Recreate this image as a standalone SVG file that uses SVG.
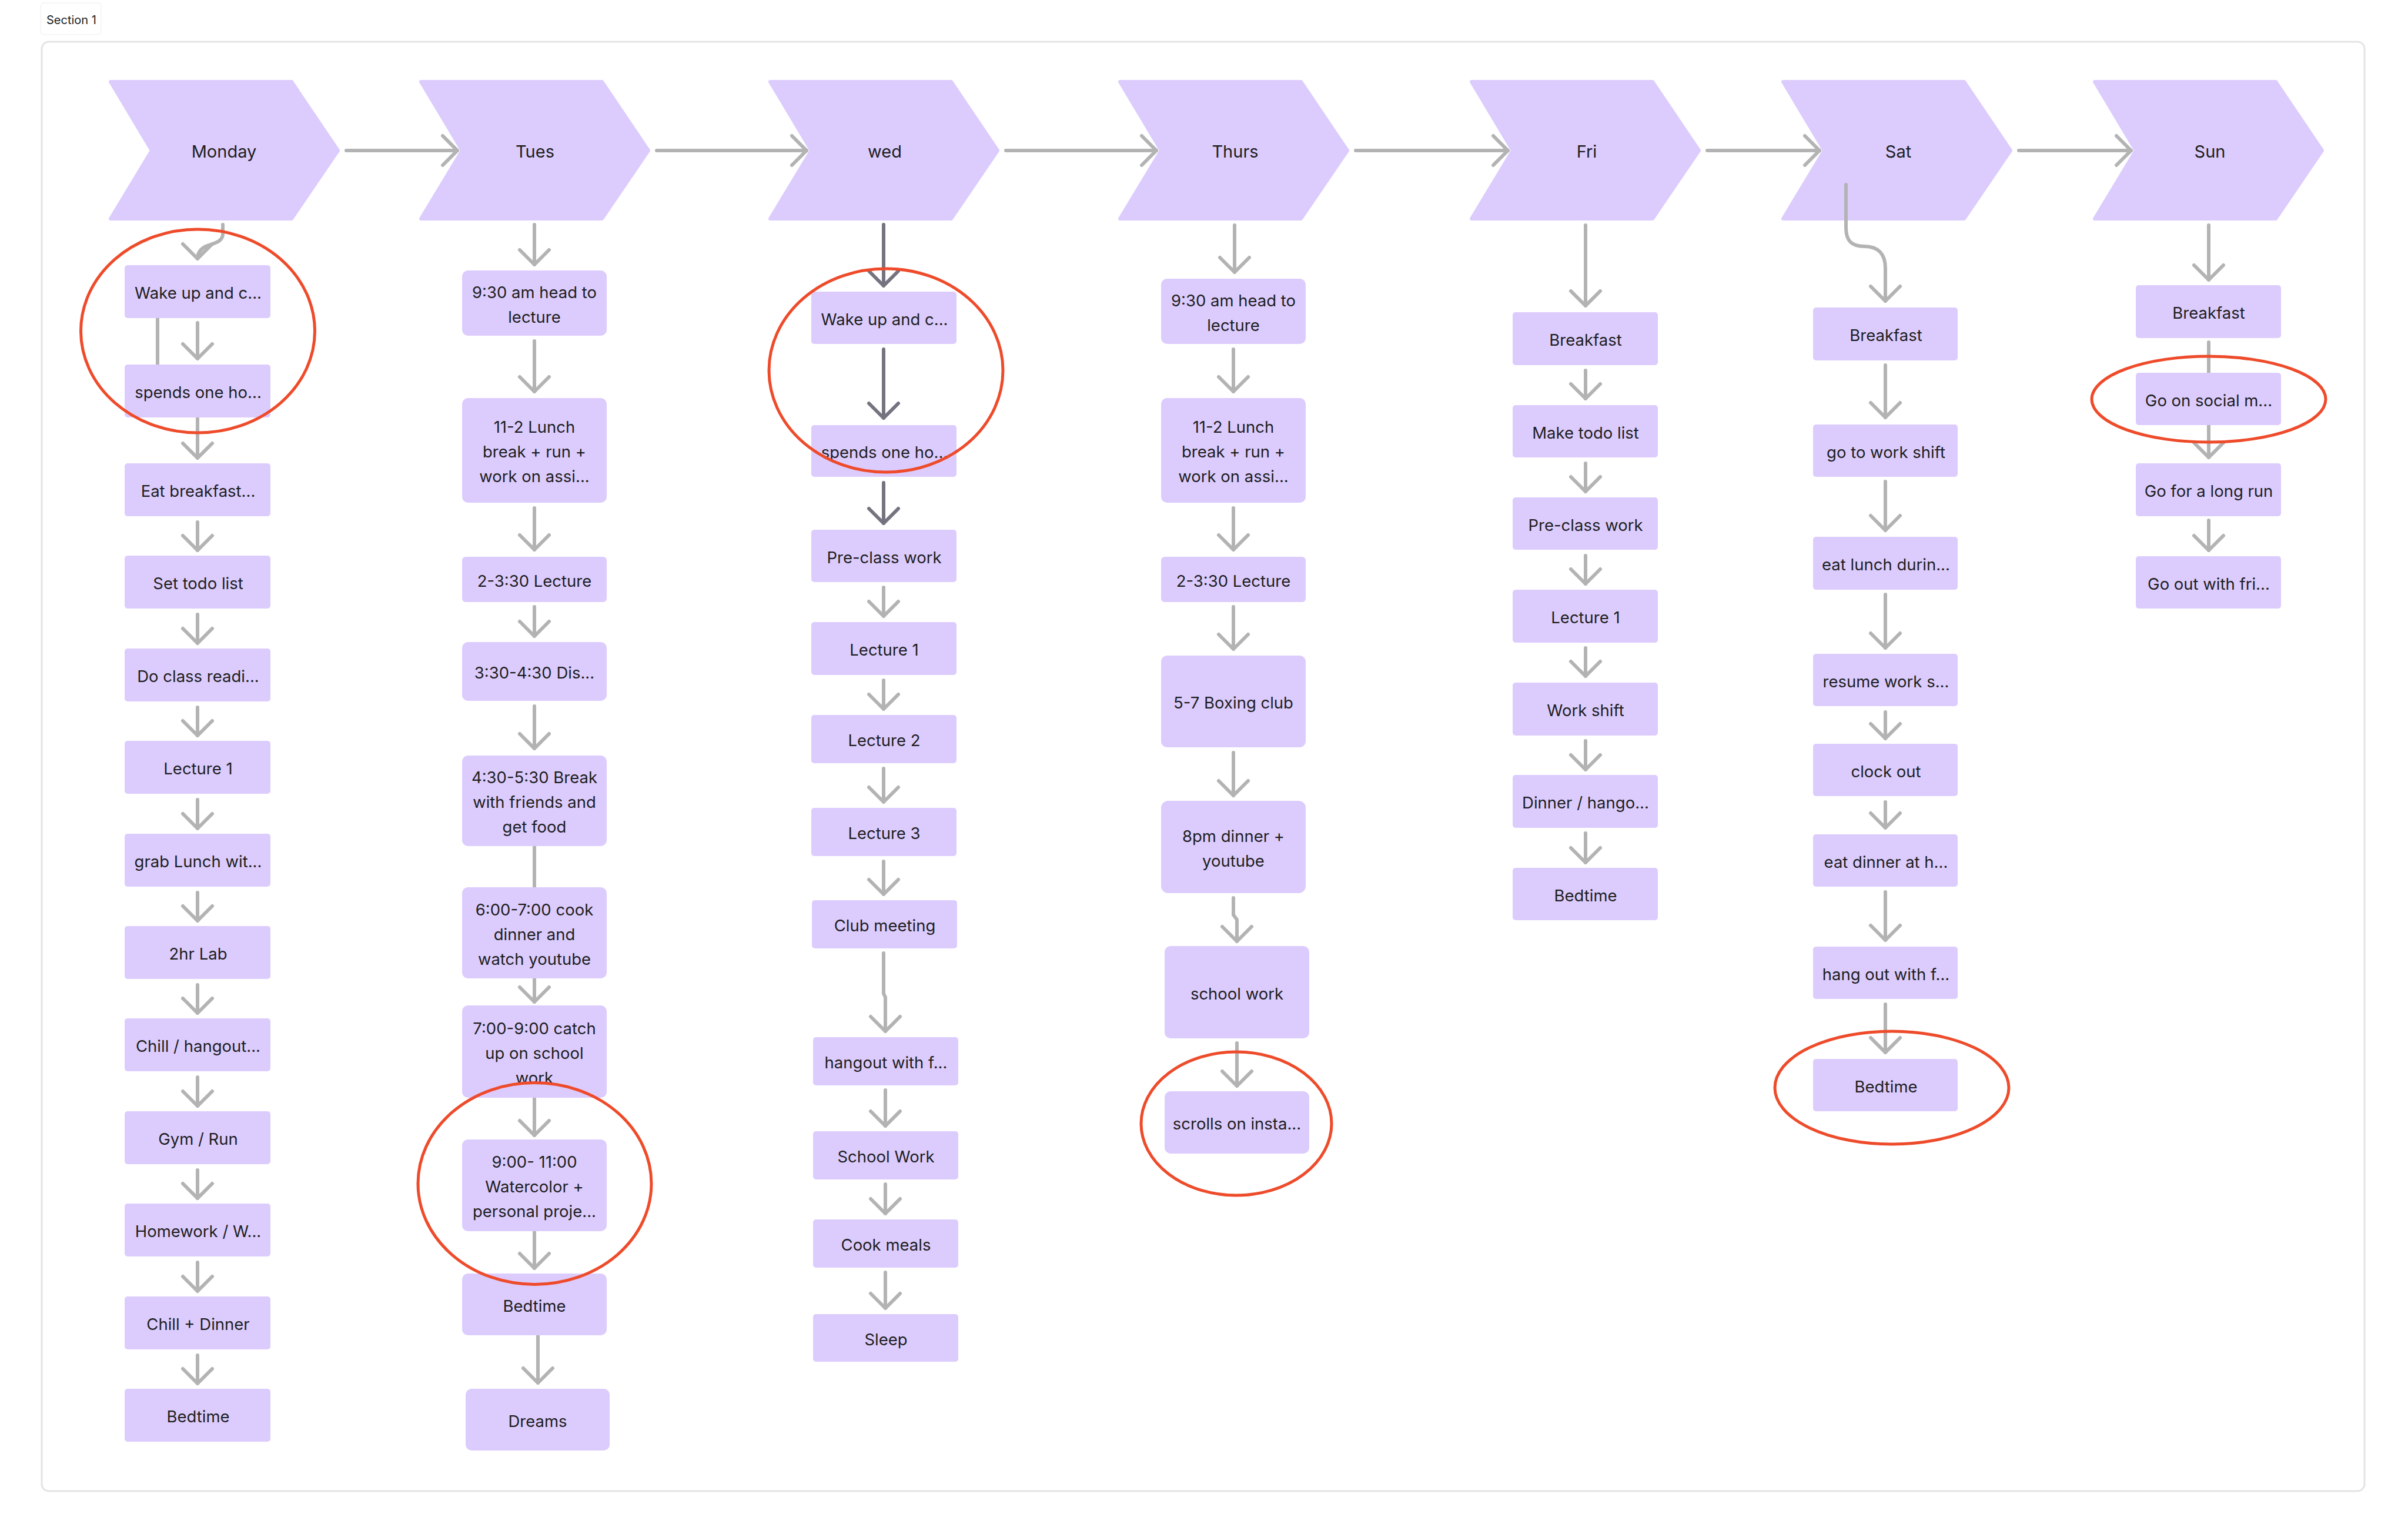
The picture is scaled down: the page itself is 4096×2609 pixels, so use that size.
<svg xmlns="http://www.w3.org/2000/svg" width="4096" height="2609" viewBox="0 0 4096 2609">
<style>
.frame{fill:#ffffff;stroke:#e4e4e4;stroke-width:3}
.chev{fill:#DCCCFE;stroke:#DCCCFE;stroke-width:6;stroke-linejoin:round}
.box{fill:#DCCCFE}
.t{font-family:Inter,"Noto Sans","Liberation Sans",sans-serif;font-size:27.5px;fill:#1e1e1e;text-anchor:middle}
.ct{font-family:Inter,"Noto Sans","Liberation Sans",sans-serif;font-size:29px;fill:#1e1e1e;text-anchor:middle}
.c{fill:none;stroke:#b3b3b3;stroke-width:6;stroke-linecap:round;stroke-linejoin:round}
.d{stroke:#75737f}
.ring{fill:none;stroke:#EE4B2B;stroke-width:5}
</style>
<defs>
<marker id="ah" viewBox="-30 -30 60 60" markerWidth="60" markerHeight="60" markerUnits="userSpaceOnUse" orient="auto" refX="0" refY="0" overflow="visible"><path d="M-25,-25 L0,0 L-25,25" fill="none" stroke="#b3b3b3" stroke-width="6" stroke-linecap="round" stroke-linejoin="round"/></marker>
<marker id="ahd" viewBox="-30 -30 60 60" markerWidth="60" markerHeight="60" markerUnits="userSpaceOnUse" orient="auto" refX="0" refY="0" overflow="visible"><path d="M-25,-25 L0,0 L-25,25" fill="none" stroke="#75737f" stroke-width="6" stroke-linecap="round" stroke-linejoin="round"/></marker>
</defs>
<rect x="0" y="0" width="4096" height="2609" fill="#ffffff"/>
<g id="section-label"><rect x="69" y="5" width="103" height="54" rx="6" fill="#ffffff" stroke="#f3f3f3" stroke-width="1.5"/><text x="79" y="41" font-family="Inter,'Noto Sans',sans-serif" font-size="20" fill="#1e1e1e">Section 1</text></g>
<rect class="frame" x="71" y="71" width="3951" height="2465" rx="12"/>

<g id="chevrons">
<g id="day-mon"><polygon class="chev" points="188,139 496,139 575,256 496,372 188,372 258,256"/><text class="ct" x="381" y="268">Monday</text></g>
<g id="day-tue"><polygon class="chev" points="716,139 1024,139 1103,256 1024,372 716,372 786,256"/><text class="ct" x="910" y="268">Tues</text></g>
<g id="day-wed"><polygon class="chev" points="1310,139 1618,139 1697,256 1618,372 1310,372 1380,256"/><text class="ct" x="1505" y="268">wed</text></g>
<g id="day-thu"><polygon class="chev" points="1905,139 2213,139 2292,256 2213,372 1905,372 1975,256"/><text class="ct" x="2101" y="268">Thurs</text></g>
<g id="day-fri"><polygon class="chev" points="2503,139 2811,139 2890,256 2811,372 2503,372 2573,256"/><text class="ct" x="2699" y="268">Fri</text></g>
<g id="day-sat"><polygon class="chev" points="3033,139 3341,139 3420,256 3341,372 3033,372 3103,256"/><text class="ct" x="3229" y="268">Sat</text></g>
<g id="day-sun"><polygon class="chev" points="3563,139 3871,139 3950,256 3871,372 3563,372 3633,256"/><text class="ct" x="3759" y="268">Sun</text></g>
</g>

<g id="connectors">
<path class="c" marker-end="url(#ah)" d="M589,256 H778"/>
<path class="c" marker-end="url(#ah)" d="M1117,256 H1372"/>
<path class="c" marker-end="url(#ah)" d="M1711,256 H1967"/>
<path class="c" marker-end="url(#ah)" d="M2306,256 H2565"/>
<path class="c" marker-end="url(#ah)" d="M2904,256 H3095"/>
<path class="c" marker-end="url(#ah)" d="M3434,256 H3625"/>
<!-- Monday -->
<path class="c" marker-end="url(#ah)" d="M379,382 V398 C379,412 362,414 350,419 C340,424 336,432 336,440"/>
<path class="c" d="M268,541 V620"/>
<path class="c" marker-end="url(#ah)" d="M336,549 V610"/>
<path class="c" marker-end="url(#ah)" d="M336,710 V779"/>
<path class="c" marker-end="url(#ah)" d="M336,888 V936"/>
<path class="c" marker-end="url(#ah)" d="M336,1045 V1094"/>
<path class="c" marker-end="url(#ah)" d="M336,1203 V1251"/>
<path class="c" marker-end="url(#ah)" d="M336,1360 V1409"/>
<path class="c" marker-end="url(#ah)" d="M336,1518 V1566"/>
<path class="c" marker-end="url(#ah)" d="M336,1675 V1723"/>
<path class="c" marker-end="url(#ah)" d="M336,1832 V1881"/>
<path class="c" marker-end="url(#ah)" d="M336,1990 V2038"/>
<path class="c" marker-end="url(#ah)" d="M336,2147 V2196"/>
<path class="c" marker-end="url(#ah)" d="M336,2305 V2353"/>
<!-- Tues -->
<path class="c" marker-end="url(#ah)" d="M909,382 V450"/>
<path class="c" marker-end="url(#ah)" d="M909,580 V666"/>
<path class="c" marker-end="url(#ah)" d="M909,864 V935"/>
<path class="c" marker-end="url(#ah)" d="M909,1032 V1082"/>
<path class="c" marker-end="url(#ah)" d="M909,1201 V1273"/>
<path class="c" d="M909,1439 V1509"/>
<path class="c" marker-end="url(#ah)" d="M909,1664 V1704"/>
<path class="c" marker-end="url(#ah)" d="M909,1867 V1931"/>
<path class="c" marker-end="url(#ah)" d="M909,2094 V2157"/>
<path class="c" marker-end="url(#ah)" d="M915,2271 V2352"/>
<!-- wed -->
<path class="c d" marker-end="url(#ahd)" d="M1503,382 V486"/>
<path class="c d" marker-end="url(#ahd)" d="M1503,594 V711"/>
<path class="c d" marker-end="url(#ahd)" d="M1503,821 V890"/>
<path class="c" marker-end="url(#ah)" d="M1503,999 V1048"/>
<path class="c" marker-end="url(#ah)" d="M1503,1157 V1206"/>
<path class="c" marker-end="url(#ah)" d="M1503,1307 V1364"/>
<path class="c" marker-end="url(#ah)" d="M1503,1465 V1521"/>
<path class="c" marker-end="url(#ah)" d="M1503,1621 V1690 L1506,1696 V1754"/>
<path class="c" marker-end="url(#ah)" d="M1506,1854 V1915"/>
<path class="c" marker-end="url(#ah)" d="M1506,2014 V2064"/>
<path class="c" marker-end="url(#ah)" d="M1506,2164 V2225"/>
<!-- Thurs -->
<path class="c" marker-end="url(#ah)" d="M2100,383 V463"/>
<path class="c" marker-end="url(#ah)" d="M2098,594 V666"/>
<path class="c" marker-end="url(#ah)" d="M2098,864 V935"/>
<path class="c" marker-end="url(#ah)" d="M2098,1032 V1104"/>
<path class="c" marker-end="url(#ah)" d="M2098,1280 V1353"/>
<path class="c" marker-end="url(#ah)" d="M2098,1527 V1556 L2104,1564 V1601"/>
<path class="c" marker-end="url(#ah)" d="M2104,1774 V1847"/>
<!-- Fri -->
<path class="c" marker-end="url(#ah)" d="M2697,383 V520"/>
<path class="c" marker-end="url(#ah)" d="M2697,630 V678"/>
<path class="c" marker-end="url(#ah)" d="M2697,788 V836"/>
<path class="c" marker-end="url(#ah)" d="M2697,945 V993"/>
<path class="c" marker-end="url(#ah)" d="M2697,1102 V1150"/>
<path class="c" marker-end="url(#ah)" d="M2697,1260 V1309"/>
<path class="c" marker-end="url(#ah)" d="M2697,1417 V1467"/>
<!-- Sat -->
<path class="c" marker-end="url(#ah)" d="M3140,314 V387 C3140,410 3150,419 3171,419 C3195,419 3207,432 3207,456 V512"/>
<path class="c" marker-end="url(#ah)" d="M3207,621 V710"/>
<path class="c" marker-end="url(#ah)" d="M3207,819 V902"/>
<path class="c" marker-end="url(#ah)" d="M3207,1011 V1102"/>
<path class="c" marker-end="url(#ah)" d="M3207,1211 V1256"/>
<path class="c" marker-end="url(#ah)" d="M3207,1364 V1408"/>
<path class="c" marker-end="url(#ah)" d="M3207,1517 V1599"/>
<path class="c" marker-end="url(#ah)" d="M3207,1708 V1790"/>
<!-- Sun -->
<path class="c" marker-end="url(#ah)" d="M3757,383 V476"/>
<path class="c" d="M3757,582 V634"/>
<path class="c" marker-end="url(#ah)" d="M3757,723 V778"/>
<path class="c" marker-end="url(#ah)" d="M3757,885 V936"/>
</g>

<g id="monday-nodes">
<g id="mon-1"><rect class="box" x="212" y="451" width="248" height="90" rx="5"/><text class="t" x="337" y="508">Wake up and c...</text></g>
<g id="mon-2"><rect class="box" x="212" y="620" width="248" height="90" rx="5"/><text class="t" x="337" y="677">spends one ho...</text></g>
<g id="mon-3"><rect class="box" x="212" y="788" width="248" height="90" rx="5"/><text class="t" x="337" y="845">Eat breakfast...</text></g>
<g id="mon-4"><rect class="box" x="212" y="945" width="248" height="90" rx="5"/><text class="t" x="337" y="1002">Set todo list</text></g>
<g id="mon-5"><rect class="box" x="212" y="1103" width="248" height="90" rx="5"/><text class="t" x="337" y="1160">Do class readi...</text></g>
<g id="mon-6"><rect class="box" x="212" y="1260" width="248" height="90" rx="5"/><text class="t" x="337" y="1317">Lecture 1</text></g>
<g id="mon-7"><rect class="box" x="212" y="1418" width="248" height="90" rx="5"/><text class="t" x="337" y="1475">grab Lunch wit...</text></g>
<g id="mon-8"><rect class="box" x="212" y="1575" width="248" height="90" rx="5"/><text class="t" x="337" y="1632">2hr Lab</text></g>
<g id="mon-9"><rect class="box" x="212" y="1732" width="248" height="90" rx="5"/><text class="t" x="337" y="1789">Chill / hangout...</text></g>
<g id="mon-10"><rect class="box" x="212" y="1890" width="248" height="90" rx="5"/><text class="t" x="337" y="1947">Gym / Run</text></g>
<g id="mon-11"><rect class="box" x="212" y="2047" width="248" height="90" rx="5"/><text class="t" x="337" y="2104">Homework / W...</text></g>
<g id="mon-12"><rect class="box" x="212" y="2205" width="248" height="90" rx="5"/><text class="t" x="337" y="2262">Chill + Dinner</text></g>
<g id="mon-13"><rect class="box" x="212" y="2362" width="248" height="90" rx="5"/><text class="t" x="337" y="2419">Bedtime</text></g>
</g>

<g id="tues-nodes">
<g id="tue-1"><rect class="box" x="786" y="460" width="246" height="111" rx="10"/><text class="t" x="909" y="506.5">9:30 am head to<tspan x="909" dy="42">lecture</tspan></text></g>
<g id="tue-2"><rect class="box" x="786" y="677" width="246" height="178" rx="10"/><text class="t" x="909" y="736">11-2 Lunch<tspan x="909" dy="42">break + run +</tspan><tspan x="909" dy="42">work on assi...</tspan></text></g>
<g id="tue-3"><rect class="box" x="786" y="947" width="246" height="77" rx="6"/><text class="t" x="909" y="997.5">2-3:30 Lecture</text></g>
<g id="tue-4"><rect class="box" x="786" y="1092" width="246" height="100" rx="10"/><text class="t" x="909" y="1154">3:30-4:30 Dis...</text></g>
<g id="tue-5"><rect class="box" x="786" y="1285" width="246" height="154" rx="10"/><text class="t" x="909" y="1332">4:30-5:30 Break<tspan x="909" dy="42">with friends and</tspan><tspan x="909" dy="42">get food</tspan></text></g>
<g id="tue-6"><rect class="box" x="786" y="1509" width="246" height="155" rx="10"/><text class="t" x="909" y="1556.5">6:00-7:00 cook<tspan x="909" dy="42">dinner and</tspan><tspan x="909" dy="42">watch youtube</tspan></text></g>
<g id="tue-7"><rect class="box" x="786" y="1710" width="246" height="157" rx="10"/><text class="t" x="909" y="1758.5">7:00-9:00 catch<tspan x="909" dy="42">up on school</tspan><tspan x="909" dy="42">work</tspan></text></g>
<g id="tue-8"><rect class="box" x="786" y="1938" width="246" height="156" rx="10"/><text class="t" x="909" y="1986">9:00- 11:00<tspan x="909" dy="42">Watercolor +</tspan><tspan x="909" dy="42">personal proje...</tspan></text></g>
<g id="tue-9"><rect class="box" x="786" y="2166" width="246" height="105" rx="10"/><text class="t" x="909" y="2230.5">Bedtime</text></g>
<g id="tue-10"><rect class="box" x="792" y="2362" width="245" height="105" rx="10"/><text class="t" x="914.5" y="2426.5">Dreams</text></g>
</g>

<g id="wed-nodes">
<g id="wed-1"><rect class="box" x="1380" y="496" width="247" height="89" rx="5"/><text class="t" x="1504.5" y="552.5">Wake up and c...</text></g>
<g id="wed-2"><rect class="box" x="1380" y="723" width="247" height="88" rx="5"/><text class="t" x="1504.5" y="779">spends one ho...</text></g>
<g id="wed-3"><rect class="box" x="1380" y="901" width="247" height="89" rx="5"/><text class="t" x="1504" y="957.5">Pre-class work</text></g>
<g id="wed-4"><rect class="box" x="1380" y="1058" width="247" height="90" rx="5"/><text class="t" x="1504" y="1115">Lecture 1</text></g>
<g id="wed-5"><rect class="box" x="1380" y="1216" width="247" height="82" rx="5"/><text class="t" x="1504" y="1269">Lecture 2</text></g>
<g id="wed-6"><rect class="box" x="1380" y="1374" width="247" height="82" rx="5"/><text class="t" x="1504" y="1427">Lecture 3</text></g>
<g id="wed-7"><rect class="box" x="1381" y="1531" width="247" height="82" rx="5"/><text class="t" x="1505" y="1584">Club meeting</text></g>
<g id="wed-8"><rect class="box" x="1383" y="1764" width="247" height="82" rx="5"/><text class="t" x="1507" y="1817">hangout with f...</text></g>
<g id="wed-9"><rect class="box" x="1383" y="1924" width="247" height="82" rx="5"/><text class="t" x="1507" y="1977">School Work</text></g>
<g id="wed-10"><rect class="box" x="1383" y="2074" width="247" height="82" rx="5"/><text class="t" x="1507" y="2127">Cook meals</text></g>
<g id="wed-11"><rect class="box" x="1383" y="2235" width="247" height="81" rx="5"/><text class="t" x="1507" y="2287.5">Sleep</text></g>
</g>

<g id="thurs-nodes">
<g id="thu-1"><rect class="box" x="1975" y="474" width="246" height="111" rx="10"/><text class="t" x="2098" y="520.5">9:30 am head to<tspan x="2098" dy="42">lecture</tspan></text></g>
<g id="thu-2"><rect class="box" x="1975" y="677" width="246" height="178" rx="10"/><text class="t" x="2098" y="736">11-2 Lunch<tspan x="2098" dy="42">break + run +</tspan><tspan x="2098" dy="42">work on assi...</tspan></text></g>
<g id="thu-3"><rect class="box" x="1975" y="947" width="246" height="77" rx="6"/><text class="t" x="2098" y="997.5">2-3:30 Lecture</text></g>
<g id="thu-4"><rect class="box" x="1975" y="1115" width="246" height="156" rx="10"/><text class="t" x="2098" y="1205">5-7 Boxing club</text></g>
<g id="thu-5"><rect class="box" x="1975" y="1362" width="246" height="157" rx="12"/><text class="t" x="2098" y="1431.5">8pm dinner +<tspan x="2098" dy="42">youtube</tspan></text></g>
<g id="thu-6"><rect class="box" x="1981" y="1609" width="246" height="157" rx="10"/><text class="t" x="2104" y="1699.5">school work</text></g>
<g id="thu-7"><rect class="box" x="1981" y="1856" width="246" height="106" rx="10"/><text class="t" x="2104" y="1921">scrolls on insta...</text></g>
</g>

<g id="fri-nodes">
<g id="fri-1"><rect class="box" x="2573" y="531" width="247" height="90" rx="5"/><text class="t" x="2697" y="588">Breakfast</text></g>
<g id="fri-2"><rect class="box" x="2573" y="689" width="247" height="89" rx="5"/><text class="t" x="2697" y="745.5">Make todo list</text></g>
<g id="fri-3"><rect class="box" x="2573" y="846" width="247" height="89" rx="5"/><text class="t" x="2697" y="902.5">Pre-class work</text></g>
<g id="fri-4"><rect class="box" x="2573" y="1003" width="247" height="90" rx="5"/><text class="t" x="2697" y="1060">Lecture 1</text></g>
<g id="fri-5"><rect class="box" x="2573" y="1161" width="247" height="90" rx="5"/><text class="t" x="2697" y="1218">Work shift</text></g>
<g id="fri-6"><rect class="box" x="2573" y="1318" width="247" height="90" rx="5"/><text class="t" x="2697" y="1375">Dinner / hango...</text></g>
<g id="fri-7"><rect class="box" x="2573" y="1476" width="247" height="89" rx="5"/><text class="t" x="2697" y="1532.5">Bedtime</text></g>
</g>

<g id="sat-nodes">
<g id="sat-1"><rect class="box" x="3084" y="523" width="246" height="90" rx="5"/><text class="t" x="3208" y="580">Breakfast</text></g>
<g id="sat-2"><rect class="box" x="3084" y="722" width="246" height="89" rx="5"/><text class="t" x="3208" y="778.5">go to work shift</text></g>
<g id="sat-3"><rect class="box" x="3084" y="913" width="246" height="90" rx="5"/><text class="t" x="3208" y="970">eat lunch durin...</text></g>
<g id="sat-4"><rect class="box" x="3084" y="1112" width="246" height="89" rx="5"/><text class="t" x="3208" y="1168.5">resume work s...</text></g>
<g id="sat-5"><rect class="box" x="3084" y="1265" width="246" height="89" rx="5"/><text class="t" x="3208" y="1321.5">clock out</text></g>
<g id="sat-6"><rect class="box" x="3084" y="1419" width="246" height="89" rx="5"/><text class="t" x="3208" y="1475.5">eat dinner at h...</text></g>
<g id="sat-7"><rect class="box" x="3084" y="1610" width="246" height="89" rx="5"/><text class="t" x="3208" y="1666.5">hang out with f...</text></g>
<g id="sat-8"><rect class="box" x="3084" y="1801" width="246" height="89" rx="5"/><text class="t" x="3208" y="1857.5">Bedtime</text></g>
</g>

<g id="sun-nodes">
<g id="sun-1"><rect class="box" x="3633" y="485" width="247" height="90" rx="5"/><text class="t" x="3757" y="542">Breakfast</text></g>
<g id="sun-2"><rect class="box" x="3633" y="634" width="247" height="89" rx="5"/><text class="t" x="3757" y="690.5">Go on social m...</text></g>
<g id="sun-3"><rect class="box" x="3633" y="788" width="247" height="90" rx="5"/><text class="t" x="3757" y="845">Go for a long run</text></g>
<g id="sun-4"><rect class="box" x="3633" y="946" width="247" height="89" rx="5"/><text class="t" x="3757" y="1002.5">Go out with fri...</text></g>
</g>

<g id="highlights">
<ellipse class="ring" cx="336.5" cy="563" rx="199" ry="173"/>
<ellipse class="ring" cx="909.5" cy="2013" rx="198.5" ry="171.5"/>
<ellipse class="ring" cx="1507" cy="630" rx="199" ry="173"/>
<ellipse class="ring" cx="2103" cy="1911" rx="162" ry="122"/>
<ellipse class="ring" cx="3218" cy="1850" rx="199" ry="96"/>
<ellipse class="ring" cx="3757" cy="679" rx="199" ry="73"/>
</g>
</svg>
